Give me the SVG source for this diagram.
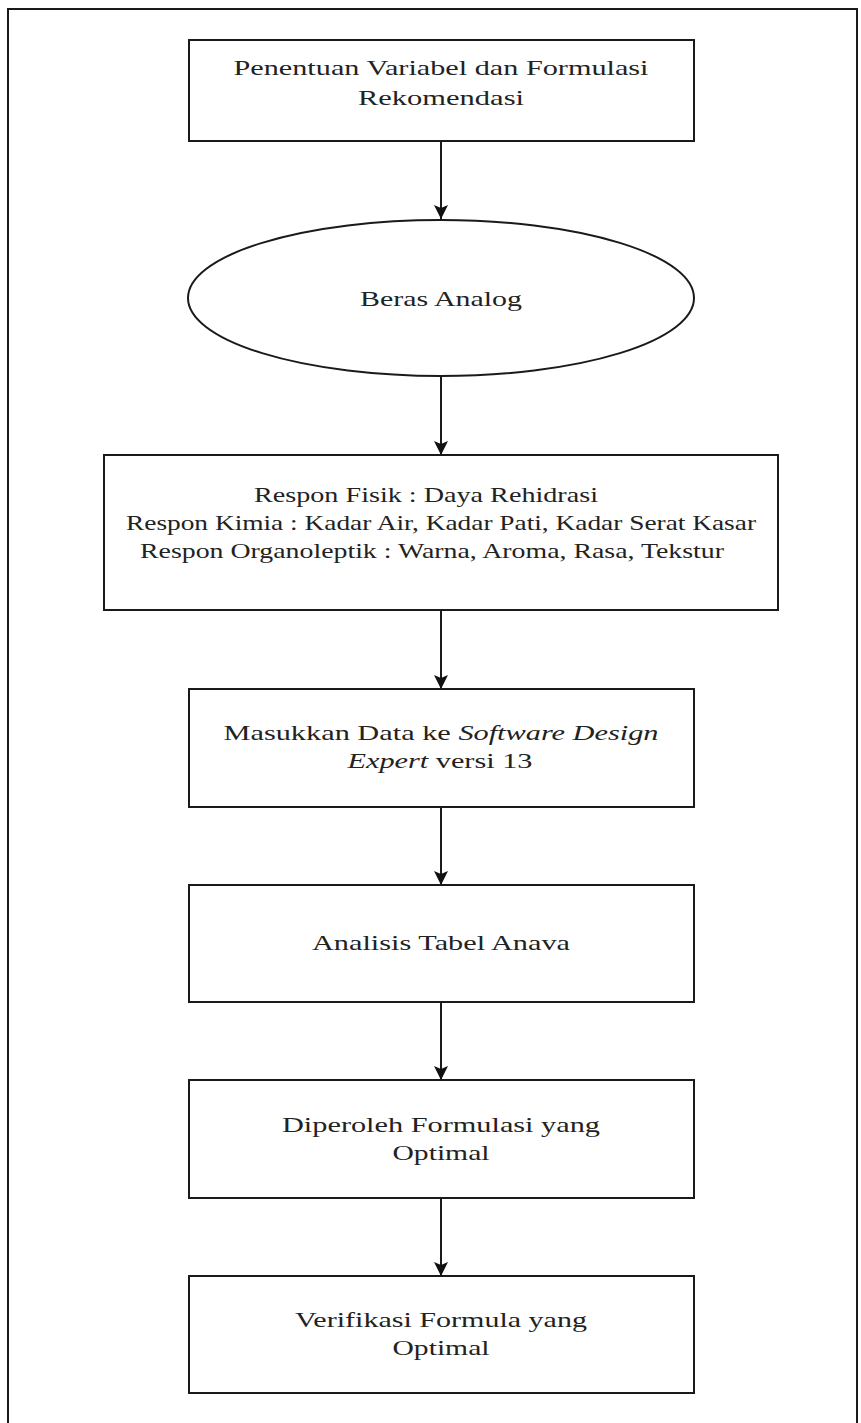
<svg xmlns="http://www.w3.org/2000/svg" width="861" height="1423" viewBox="0 0 861 1423">
  <style>
    .box { fill: #ffffff; stroke: #1a1a1a; stroke-width: 2; }
    .lbl { font-family: "Liberation Serif", "Times New Roman", serif; font-size: 22px; fill: #222222; text-anchor: middle; }
    .lbl3 { font-family: "Liberation Serif", "Times New Roman", serif; font-size: 21px; fill: #222222; }
    .conn { stroke: #1a1a1a; stroke-width: 2; fill: none; }
    .frame { stroke: #1a1a1a; stroke-width: 2; fill: none; }
  </style>
  <defs>
    <marker id="arrow" viewBox="0 0 14 14" refX="14" refY="7" markerWidth="14" markerHeight="14" markerUnits="userSpaceOnUse" orient="auto">
      <path d="M0,0 L14,7 L0,14 L3,7 Z" fill="#111111"/>
    </marker>
  </defs>
  <rect width="861" height="1423" fill="#ffffff"/>
  <path class="frame" d="M8,1423 V9 H857 V1423"/>

  <g id="connectors">
    <line class="conn" x1="441" y1="141" x2="441" y2="219" marker-end="url(#arrow)"/>
    <line class="conn" x1="441" y1="376" x2="441" y2="455" marker-end="url(#arrow)"/>
    <line class="conn" x1="441" y1="610" x2="441" y2="689" marker-end="url(#arrow)"/>
    <line class="conn" x1="441" y1="807" x2="441" y2="885" marker-end="url(#arrow)"/>
    <line class="conn" x1="441" y1="1002" x2="441" y2="1080" marker-end="url(#arrow)"/>
    <line class="conn" x1="441" y1="1198" x2="441" y2="1276" marker-end="url(#arrow)"/>
  </g>

  <g id="node1">
    <rect class="box" x="189" y="40" width="505" height="101"/>
    <text class="lbl" x="441" y="75" textLength="415" lengthAdjust="spacingAndGlyphs">Penentuan Variabel dan Formulasi</text>
    <text class="lbl" x="441" y="105" textLength="166" lengthAdjust="spacingAndGlyphs">Rekomendasi</text>
  </g>

  <g id="node2">
    <ellipse class="box" cx="441" cy="298" rx="253" ry="78"/>
    <text class="lbl" x="441" y="306" textLength="162" lengthAdjust="spacingAndGlyphs">Beras Analog</text>
  </g>

  <g id="node3">
    <rect class="box" x="104" y="455" width="674" height="155"/>
    <text class="lbl3" x="254" y="502" textLength="344" lengthAdjust="spacingAndGlyphs">Respon Fisik : Daya Rehidrasi</text>
    <text class="lbl3" x="126" y="530" textLength="630" lengthAdjust="spacingAndGlyphs">Respon Kimia : Kadar Air, Kadar Pati, Kadar Serat Kasar</text>
    <text class="lbl3" x="140" y="558" textLength="584" lengthAdjust="spacingAndGlyphs">Respon Organoleptik : Warna, Aroma, Rasa, Tekstur</text>
  </g>

  <g id="node4">
    <rect class="box" x="189" y="689" width="505" height="118"/>
    <text class="lbl" x="441" y="740" textLength="435" lengthAdjust="spacingAndGlyphs">Masukkan Data ke <tspan font-style="italic">Software Design</tspan></text>
    <text class="lbl" x="440" y="768" textLength="185" lengthAdjust="spacingAndGlyphs"><tspan font-style="italic">Expert</tspan> versi 13</text>
  </g>

  <g id="node5">
    <rect class="box" x="189" y="885" width="505" height="117"/>
    <text class="lbl" x="441" y="950" textLength="258" lengthAdjust="spacingAndGlyphs">Analisis Tabel Anava</text>
  </g>

  <g id="node6">
    <rect class="box" x="189" y="1080" width="505" height="118"/>
    <text class="lbl" x="441" y="1132" textLength="318" lengthAdjust="spacingAndGlyphs">Diperoleh Formulasi yang</text>
    <text class="lbl" x="441" y="1160" textLength="97" lengthAdjust="spacingAndGlyphs">Optimal</text>
  </g>

  <g id="node7">
    <rect class="box" x="189" y="1276" width="505" height="117"/>
    <text class="lbl" x="441" y="1327" textLength="292" lengthAdjust="spacingAndGlyphs">Verifikasi Formula yang</text>
    <text class="lbl" x="441" y="1355" textLength="97" lengthAdjust="spacingAndGlyphs">Optimal</text>
  </g>
</svg>
